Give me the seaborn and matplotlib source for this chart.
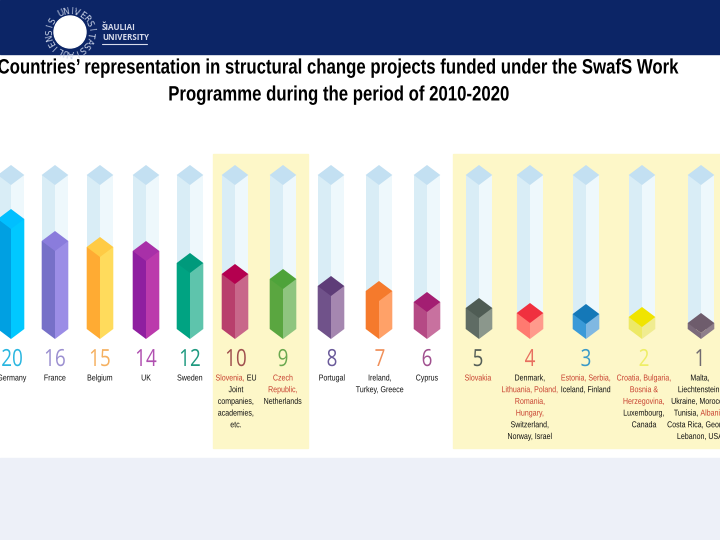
import numpy as np
import pandas as pd
import seaborn as sns
import matplotlib.pyplot as plt
from matplotlib.patches import Rectangle, Circle
from matplotlib.patheffects import AbstractPathEffect
from matplotlib.transforms import Affine2D

# values shown under each bar and the level the artwork fills up to (px)
values = [20, 16, 15, 14, 12, 10, 9, 8, 7, 6, 5, 4, 3, 2, 1]
centers = [11, 55, 100, 146, 190, 235, 283, 331, 379, 427, 479, 530, 586, 642, 701]
label_x = [12, 55, 100, 146, 190, 236, 283, 332, 380, 427, 478, 530, 586, 644, 700]
apex_y = [209, 231, 237, 241, 253, 264, 269, 276, 281, 292, 298, 303, 304, 307, 313]

left_colors = ['#00a0e2', '#7670c8', '#ffab33', '#8f1fa0', '#00a382', '#b83f6c', '#5aa640', '#70528a',
               '#f57a2c', '#b54a85', '#5f6c64', '#ff7a70', '#3a9ad8', '#ede966', '#7b6a7a']
right_colors = ['#00c8ff', '#9b8de6', '#ffdb5c', '#bb3aac', '#5ec4ac', '#c8678a', '#8fc57f', '#a587b0',
                '#ffa168', '#c8719f', '#8b978c', '#ff9a8c', '#80b8e2', '#f0ec90', '#8f7f8c']
top_colors = ['#00bfff', '#8a7cdc', '#ffcb45', '#a830a8', '#009a7c', '#b4004f', '#4ea33a', '#5e3d78',
              '#f57a2c', '#a31e72', '#4f5c54', '#f0303f', '#1478b8', '#f0e400', '#6e5c6c']
number_colors = ['#29b6e0', '#9b8fd0', '#f5b060', '#b050b0', '#1f9a80', '#a0504f', '#6aa84f', '#6a5a9a',
                 '#f0905a', '#a0508f', '#555f58', '#e87060', '#3a9ac8', '#eeee66', '#706a70']

RED = '#c8402f'
BLACK = '#111111'
labels = [
    [[('Germany', BLACK)]],
    [[('France', BLACK)]],
    [[('Belgium', BLACK)]],
    [[('UK', BLACK)]],
    [[('Sweden', BLACK)]],
    [[('Slovenia,', RED), (' EU', BLACK)], [('Joint', BLACK)], [('companies,', BLACK)],
     [('academies,', BLACK)], [('etc.', BLACK)]],
    [[('Czech', RED)], [('Republic,', RED)], [('Netherlands', BLACK)]],
    [[('Portugal', BLACK)]],
    [[('Ireland,', BLACK)], [('Turkey, Greece', BLACK)]],
    [[('Cyprus', BLACK)]],
    [[('Slovakia', RED)]],
    [[('Denmark,', BLACK)], [('Lithuania, Poland,', RED)], [('Romania,', RED)], [('Hungary,', RED)],
     [('Switzerland,', BLACK)], [('Norway, Israel', BLACK)]],
    [[('Estonia, Serbia,', RED)], [('Iceland, Finland', BLACK)]],
    [[('Croatia, Bulgaria,', RED)], [('Bosnia &', RED)], [('Herzegovina,', RED)],
     [('Luxembourg,', BLACK)], [('Canada', BLACK)]],
    [[('Malta,', BLACK)], [('Liechtenstein,', BLACK)], [('Ukraine, Morocco,', BLACK)],
     [('Tunisia, ', BLACK), ('Albania,', RED)], [('Costa Rica, Georgia,', BLACK)], [('Lebanon, USA', BLACK)]],
]

title_lines = ['Countries\u2019 representation in structural change projects funded under the SwafS Work',
               'Programme during the period of 2010-2020']

HALF_W = 13.3
DROP = 10
BASE_Y = 329
TUBE_Y = 175


class Squeeze(AbstractPathEffect):
    """Narrows a text horizontally about one pixel column, the fonts here have no narrow cut."""

    def __init__(self, x_px, factor):
        super().__init__()
        self.x_px = x_px
        self.factor = factor

    def draw_path(self, renderer, gc, tpath, affine, rgbFace=None):
        squeeze = Affine2D().translate(-self.x_px, 0).scale(self.factor, 1).translate(self.x_px, 0)
        renderer.draw_path(gc, tpath, affine + squeeze, rgbFace)


sns.set_style('white')
fig = plt.figure(figsize=(7.2, 5.4), dpi=100)
ax = fig.add_axes([0, 0, 1, 1])


def draw_faces(tops, left, right):
    # two barplots side by side make the left and right face of each prism
    spacing = np.diff(sorted(centers)).min()
    for offset, colors in ((-HALF_W / 2, left), (HALF_W / 2, right)):
        df = pd.DataFrame({'x': np.array(centers) + offset,
                           'h': np.array(tops, dtype=float) - BASE_Y,
                           'value': range(len(centers))})
        sns.barplot(data=df, x='x', y='h', hue='value', palette=list(colors), native_scale=True,
                    width=HALF_W / spacing, dodge=False, legend=False, saturation=1, orient='x',
                    bottom=BASE_Y, linewidth=0, ax=ax)


# page furniture
ax.add_patch(Rectangle((0, 0), 720, 54, color='#0c2566', zorder=0))
ax.add_patch(Rectangle((0, 458), 720, 82, color='#edf0f8', zorder=0))
ax.add_patch(Rectangle((213, 154), 95, 294, color='#fdf7c8', zorder=0))
ax.add_patch(Rectangle((453, 154), 267, 294, color='#fdf7c8', zorder=0))

# empty tubes, then the filled part
draw_faces([TUBE_Y] * len(centers), ['#d9edf6'] * len(centers), ['#eef8fc'] * len(centers))
draw_faces([a + DROP for a in apex_y], left_colors, right_colors)

for i, cx in enumerate(centers):
    # tube lid
    ax.fill([cx - HALF_W, cx, cx + HALF_W, cx], [TUBE_Y, TUBE_Y - DROP, TUBE_Y, TUBE_Y + DROP],
            color='#c3e0f2', lw=0, zorder=5)
    # top of the filled part
    a = apex_y[i]
    ax.fill([cx - HALF_W, cx, cx + HALF_W, cx], [a + DROP, a, a + DROP, a + 2 * DROP],
            color=top_colors[i], lw=0, zorder=5)
    # front faces of the fill reach down to the lower tip
    ax.fill([cx - HALF_W, cx, cx, cx - HALF_W], [a + DROP, a + 2 * DROP, BASE_Y + DROP, BASE_Y],
            color=left_colors[i], lw=0, zorder=4)
    ax.fill([cx, cx + HALF_W, cx + HALF_W, cx], [a + 2 * DROP, a + DROP, BASE_Y, BASE_Y + DROP],
            color=right_colors[i], lw=0, zorder=4)

    ax.text(label_x[i], 360, str(values[i]), color=number_colors[i], ha='center', va='center',
            fontsize=17, family='Open Sans', path_effects=[Squeeze(label_x[i], 0.8)])

fig.canvas.draw()
renderer = fig.canvas.get_renderer()
for cx, lines in zip(label_x, labels):
    for row, line in enumerate(lines):
        y = 378 + row * 11.7
        parts = [ax.text(0, y, t, color=c, fontsize=6.2, family='Liberation Sans', va='center', ha='left',
                         path_effects=[Squeeze(cx, 0.82)]) for t, c in line]
        widths = [p.get_window_extent(renderer).width for p in parts]
        x = cx - sum(widths) / 2
        for p, w in zip(parts, widths):
            p.set_x(x)
            x += w

for text, y in zip(title_lines, (68, 95)):
    ax.text(339.5, y, text, color='black', fontsize=15, family='Liberation Sans', weight='bold',
            ha='center', va='center', path_effects=[Squeeze(339.5, 0.805)])

# logo
ax.add_patch(Circle((70, 32), 16, color='white', zorder=6))
ring = 'SIAULIENSIS UNIVERSITAS'
for k, ch in enumerate(ring):
    ang = -55 - k * 360 / len(ring)
    ax.text(70 + 20.5 * np.cos(np.radians(ang)), 32 - 20.5 * np.sin(np.radians(ang)), ch,
            color='#c9d2e6', fontsize=6.2, ha='center', va='center', rotation=ang - 90, zorder=6)
ax.text(102, 28, '\u0160IAULIAI', color='#d8dcec', fontsize=5.8, weight='bold', va='center', family='Open Sans')
ax.text(102, 38, 'UNIVERSITY', color='#d8dcec', fontsize=5.8, weight='bold', va='center', family='Open Sans')
ax.plot([102, 147], [44, 44], color='#d8dcec', lw=0.8)

ax.set_xlim(0, 720)
ax.set_ylim(540, 0)
ax.axis('off')
fig.savefig('out.png', dpi=100)
